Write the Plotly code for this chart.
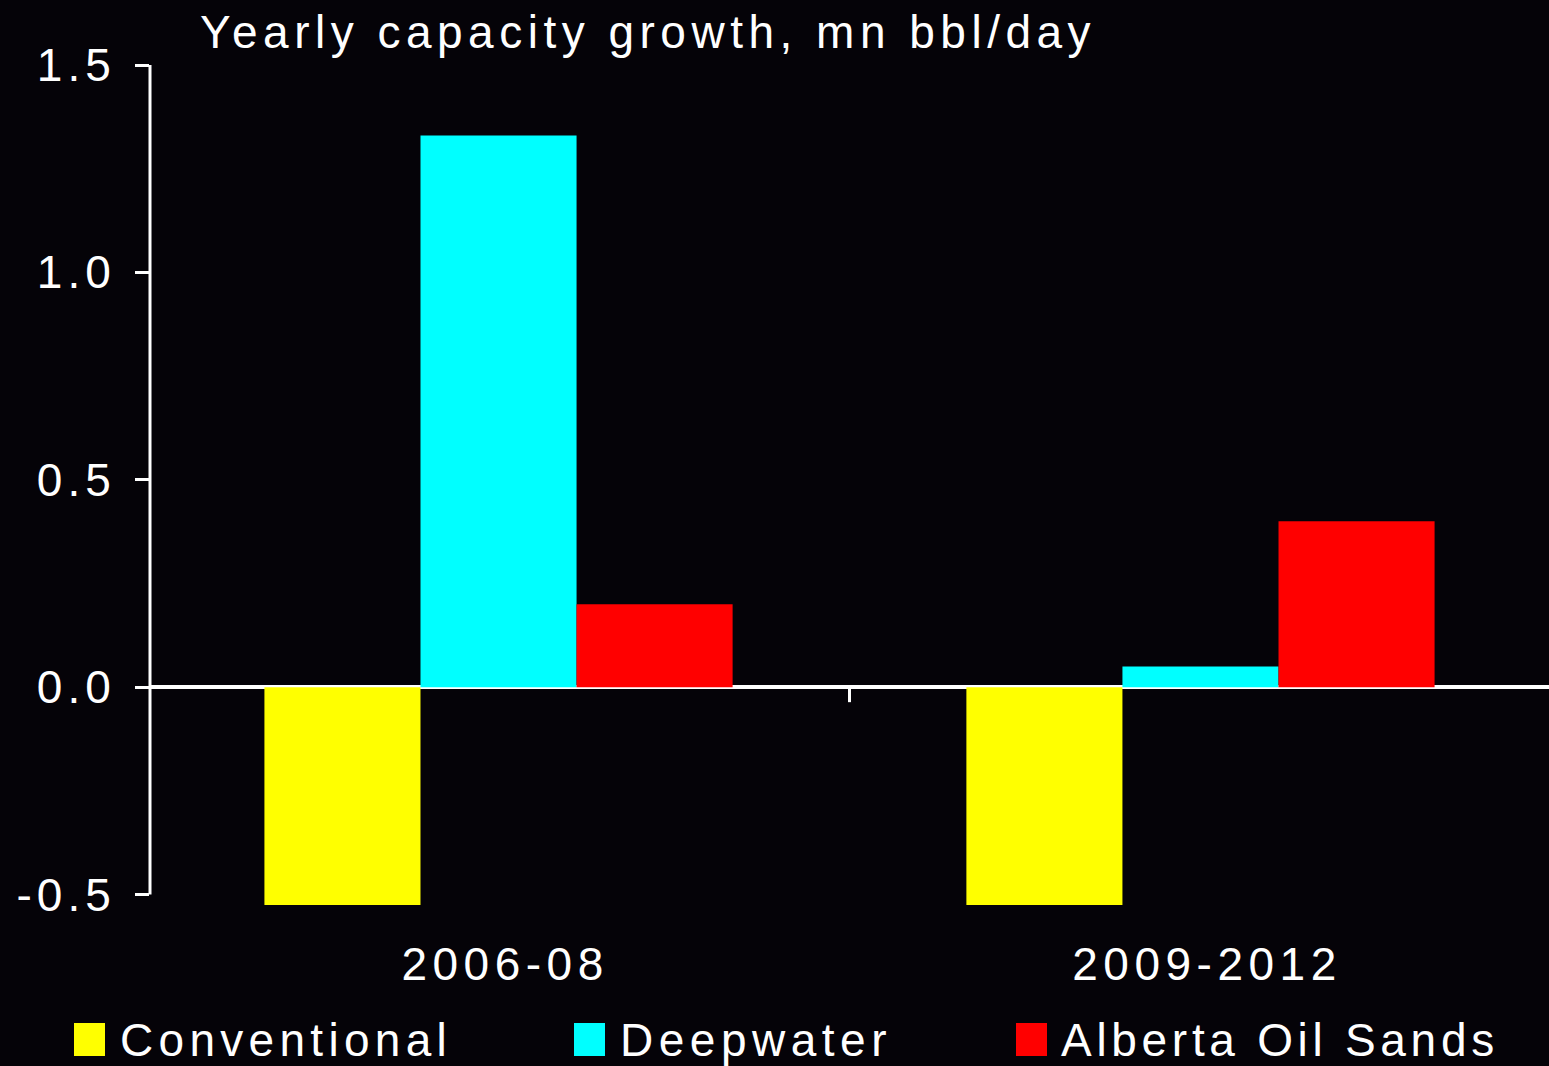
import plotly.graph_objects as go

# ---- data ----
categories = ["2006-08", "2009-2012"]
series_names = ["Conventional", "Deepwater", "Alberta Oil Sands"]
conventional = [-0.525, -0.525]
deepwater = [1.33, 0.05]
alberta = [0.20, 0.40]
series_values = [conventional, deepwater, alberta]
series_colors = ["#FFFF00", "#00FFFF", "#FF0000"]
y_tick_vals = [-0.5, 0.0, 0.5, 1.0, 1.5]
y_tick_labels = ["-0.5", "0.0", "0.5", "1.0", "1.5"]
title_text = "Yearly capacity growth, mn bbl/day"

BG = "#050308"
FONT = "Liberation Sans"
FS = 46


def sp(t, ls="5.5px"):
    return f'<span style="letter-spacing:{ls}">{t}</span>'


W, H = 1549, 1066
ML, MR, MT, MB = 150, 0, 65, 159
PW, PH = W - ML - MR, H - MT - MB


def px2x(px):
    return (px - ML) / PW


def py2y(py):
    return (H - MB - py) / PH


fig = go.Figure()
for name, vals, col in zip(series_names, series_values, series_colors):
    fig.add_trace(go.Bar(x=categories, y=vals, name=name,
                         marker=dict(color=col, line=dict(width=0)),
                         showlegend=False))

shapes = [
    # y axis line from -0.5 to 1.5
    dict(type="line", xref="paper", yref="y", x0=0, x1=0,
         y0=y_tick_vals[0], y1=y_tick_vals[-1],
         line=dict(color="white", width=3)),
    # category divider tick below the zero line
    dict(type="line", xref="x", yref="y", x0=0.5, x1=0.5,
         ysizemode="pixel", yanchor=0, y0=0, y1=-15,
         line=dict(color="white", width=3)),
]

annotations = [
    dict(text=sp(title_text), xref="paper", yref="paper",
         x=px2x(198), y=py2y(32), xanchor="left", yanchor="middle",
         showarrow=False, font=dict(family=FONT, size=FS, color="white")),
]

# manual legend (large square swatches)
legend_sq_x = [74, 574, 1016]
legend_txt_x = [118, 618, 1059]
legend_ls = ["5.3px", "5.5px", "4.7px"]
for name, col, sx, tx, ls in zip(series_names, series_colors, legend_sq_x,
                                 legend_txt_x, legend_ls):
    shapes.append(dict(type="rect", xref="paper", yref="paper",
                       x0=px2x(sx), x1=px2x(sx + 31),
                       y0=py2y(1056), y1=py2y(1023),
                       fillcolor=col, line=dict(width=0)))
    annotations.append(dict(text=sp(name, ls), xref="paper", yref="paper",
                            x=px2x(tx), y=py2y(1040), xanchor="left",
                            yanchor="middle", showarrow=False,
                            font=dict(family=FONT, size=FS, color="white")))

fig.update_layout(
    width=W, height=H,
    margin=dict(l=ML, r=MR, t=MT, b=MB, pad=0),
    paper_bgcolor=BG, plot_bgcolor=BG,
    barmode="group", bargap=0.333, bargroupgap=0,
    showlegend=False,
    font=dict(family=FONT, size=FS, color="white"),
    shapes=shapes, annotations=annotations,
    xaxis=dict(type="category", range=[-0.4965, 1.4965], showgrid=False,
               zeroline=False, showline=False, ticks="",
               tickvals=categories,
               ticktext=["&#8201;&#8202;" + sp(c) for c in categories],
               tickfont=dict(family=FONT, size=FS, color="white"),
               ticklabelstandoff=26, fixedrange=True),
    yaxis=dict(range=[-0.53, 1.5], showgrid=False, zeroline=True,
               zerolinecolor="white", zerolinewidth=3.5, showline=False,
               ticks="outside", ticklen=14, tickwidth=3, tickcolor="white",
               tickvals=y_tick_vals, ticktext=[sp(t, "5px") for t in y_tick_labels],
               tickfont=dict(family=FONT, size=FS, color="white"),
               ticklabelstandoff=10, fixedrange=True),
)

fig.write_html(
    "out.html",
    config={"displayModeBar": False},
    post_script="document.body.style.margin='0';document.body.style.background='%s';" % BG,
)
